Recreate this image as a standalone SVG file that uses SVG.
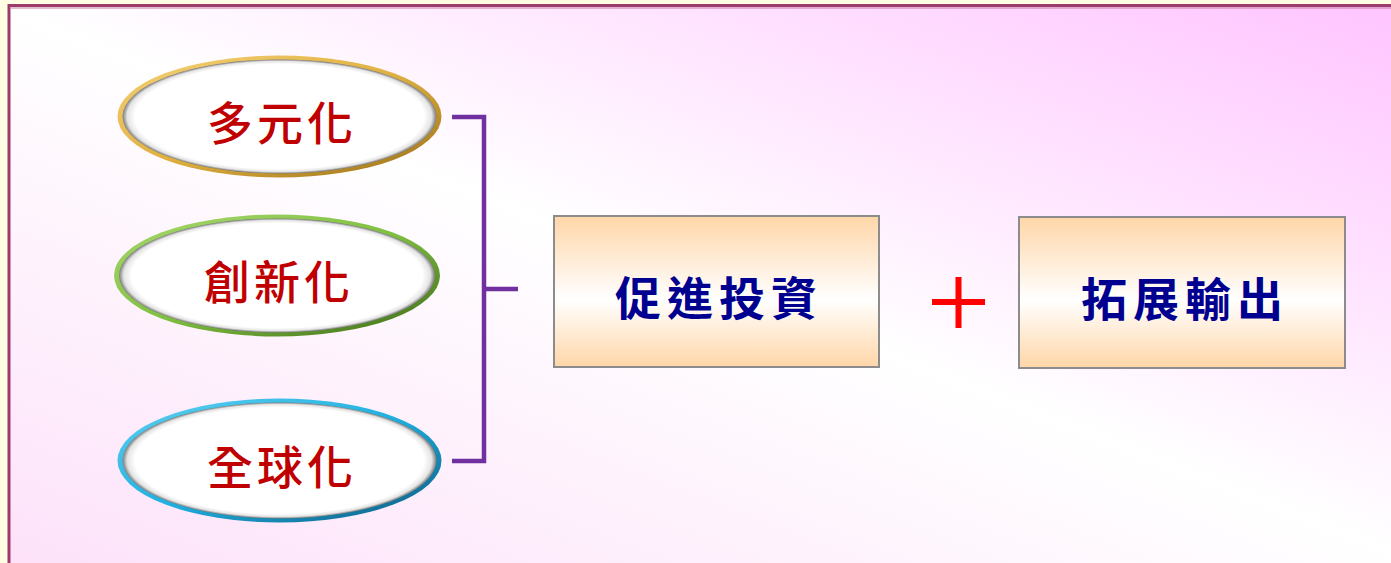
<svg xmlns="http://www.w3.org/2000/svg" width="1391" height="563" viewBox="0 0 1391 563">
<style>
.etxt{font-family:"Noto Sans CJK TC","Noto Sans CJK SC",sans-serif;font-size:46px;fill:#c00000;text-anchor:middle;letter-spacing:4px;font-weight:500}
.btxt{font-family:"Noto Sans CJK TC","Noto Sans CJK SC",sans-serif;font-size:46px;fill:#000090;text-anchor:middle;letter-spacing:6px;font-weight:bold}
.box{fill:url(#boxg);stroke:#8c8c8c;stroke-width:2}
.inner{fill:url(#innerg)}
.conn{fill:none;stroke:#7030a0;stroke-width:4.5}
</style>
<defs>
<linearGradient id="bg" gradientUnits="userSpaceOnUse" x1="885" y1="-195" x2="515" y2="755">
<stop offset="0" stop-color="#ffc4ff"/>
<stop offset="0.5" stop-color="#ffffff"/>
<stop offset="1" stop-color="#fde2fa"/>
</linearGradient>
<linearGradient id="boxg" x1="0" y1="0" x2="0" y2="1">
<stop offset="0" stop-color="#ffd6a8"/>
<stop offset="0.55" stop-color="#ffffff"/>
<stop offset="1" stop-color="#ffd6a8"/>
</linearGradient>
<radialGradient id="innerg" cx="0.5" cy="0.5" r="0.5">
<stop offset="0.92" stop-color="#ffffff"/>
<stop offset="0.97" stop-color="#e4e4e4"/>
<stop offset="1" stop-color="#7a7a7a"/>
</radialGradient>
<linearGradient id="gold" x1="0" y1="0" x2="1" y2="1">
<stop offset="0" stop-color="#f4d27a"/>
<stop offset="0.5" stop-color="#e0b040"/>
<stop offset="1" stop-color="#9a7018"/>
</linearGradient>
<linearGradient id="green" x1="0" y1="0" x2="1" y2="1">
<stop offset="0" stop-color="#a8d870"/>
<stop offset="0.5" stop-color="#80c040"/>
<stop offset="1" stop-color="#3e6a18"/>
</linearGradient>
<linearGradient id="blue" x1="0" y1="0" x2="1" y2="1">
<stop offset="0" stop-color="#60d0f0"/>
<stop offset="0.5" stop-color="#20b0e0"/>
<stop offset="1" stop-color="#0c5a80"/>
</linearGradient>
</defs>
<rect x="0" y="0" width="1391" height="563" fill="#fffde2"/>
<rect x="9" y="5.5" width="1390" height="570" fill="url(#bg)" stroke="#9c3c6c" stroke-width="3"/>
<line x1="11" y1="8" x2="1391" y2="8" stroke="#c87aa0" stroke-width="1"/>

<g id="connectors">
<polyline class="conn" points="452,117 484,117 484,461 452,461"/>
<line class="conn" x1="484" y1="289" x2="518" y2="289"/>
</g>

<g id="node-duoyuanhua">
<ellipse cx="279.5" cy="116.5" rx="162" ry="61" fill="url(#gold)"/>
<ellipse class="inner" cx="279.5" cy="116.5" rx="157" ry="57"/>
<text class="etxt" x="282" y="140">多元化</text>
</g>
<g id="node-chuangxinhua">
<ellipse cx="277" cy="275.5" rx="163" ry="61" fill="url(#green)"/>
<ellipse class="inner" cx="277" cy="275.5" rx="158" ry="57"/>
<text class="etxt" x="279" y="299">創新化</text>
</g>
<g id="node-quanqiuhua">
<ellipse cx="279.5" cy="460.5" rx="162" ry="62" fill="url(#blue)"/>
<ellipse class="inner" cx="279.5" cy="460.5" rx="157" ry="58"/>
<text class="etxt" x="282" y="484">全球化</text>
</g>

<g id="node-cujin">
<rect class="box" x="554" y="216" width="325" height="151"/>
<text class="btxt" x="719" y="315">促進投資</text>
</g>
<g id="node-plus">
<line x1="932" y1="302" x2="985" y2="302" stroke="#ff0000" stroke-width="6"/>
<line x1="958.5" y1="277" x2="958.5" y2="328" stroke="#ff0000" stroke-width="6"/>
</g>
<g id="node-tuozhan">
<rect class="box" x="1019" y="217" width="326" height="151"/>
<text class="btxt" x="1185" y="316">拓展輸出</text>
</g>
</svg>
